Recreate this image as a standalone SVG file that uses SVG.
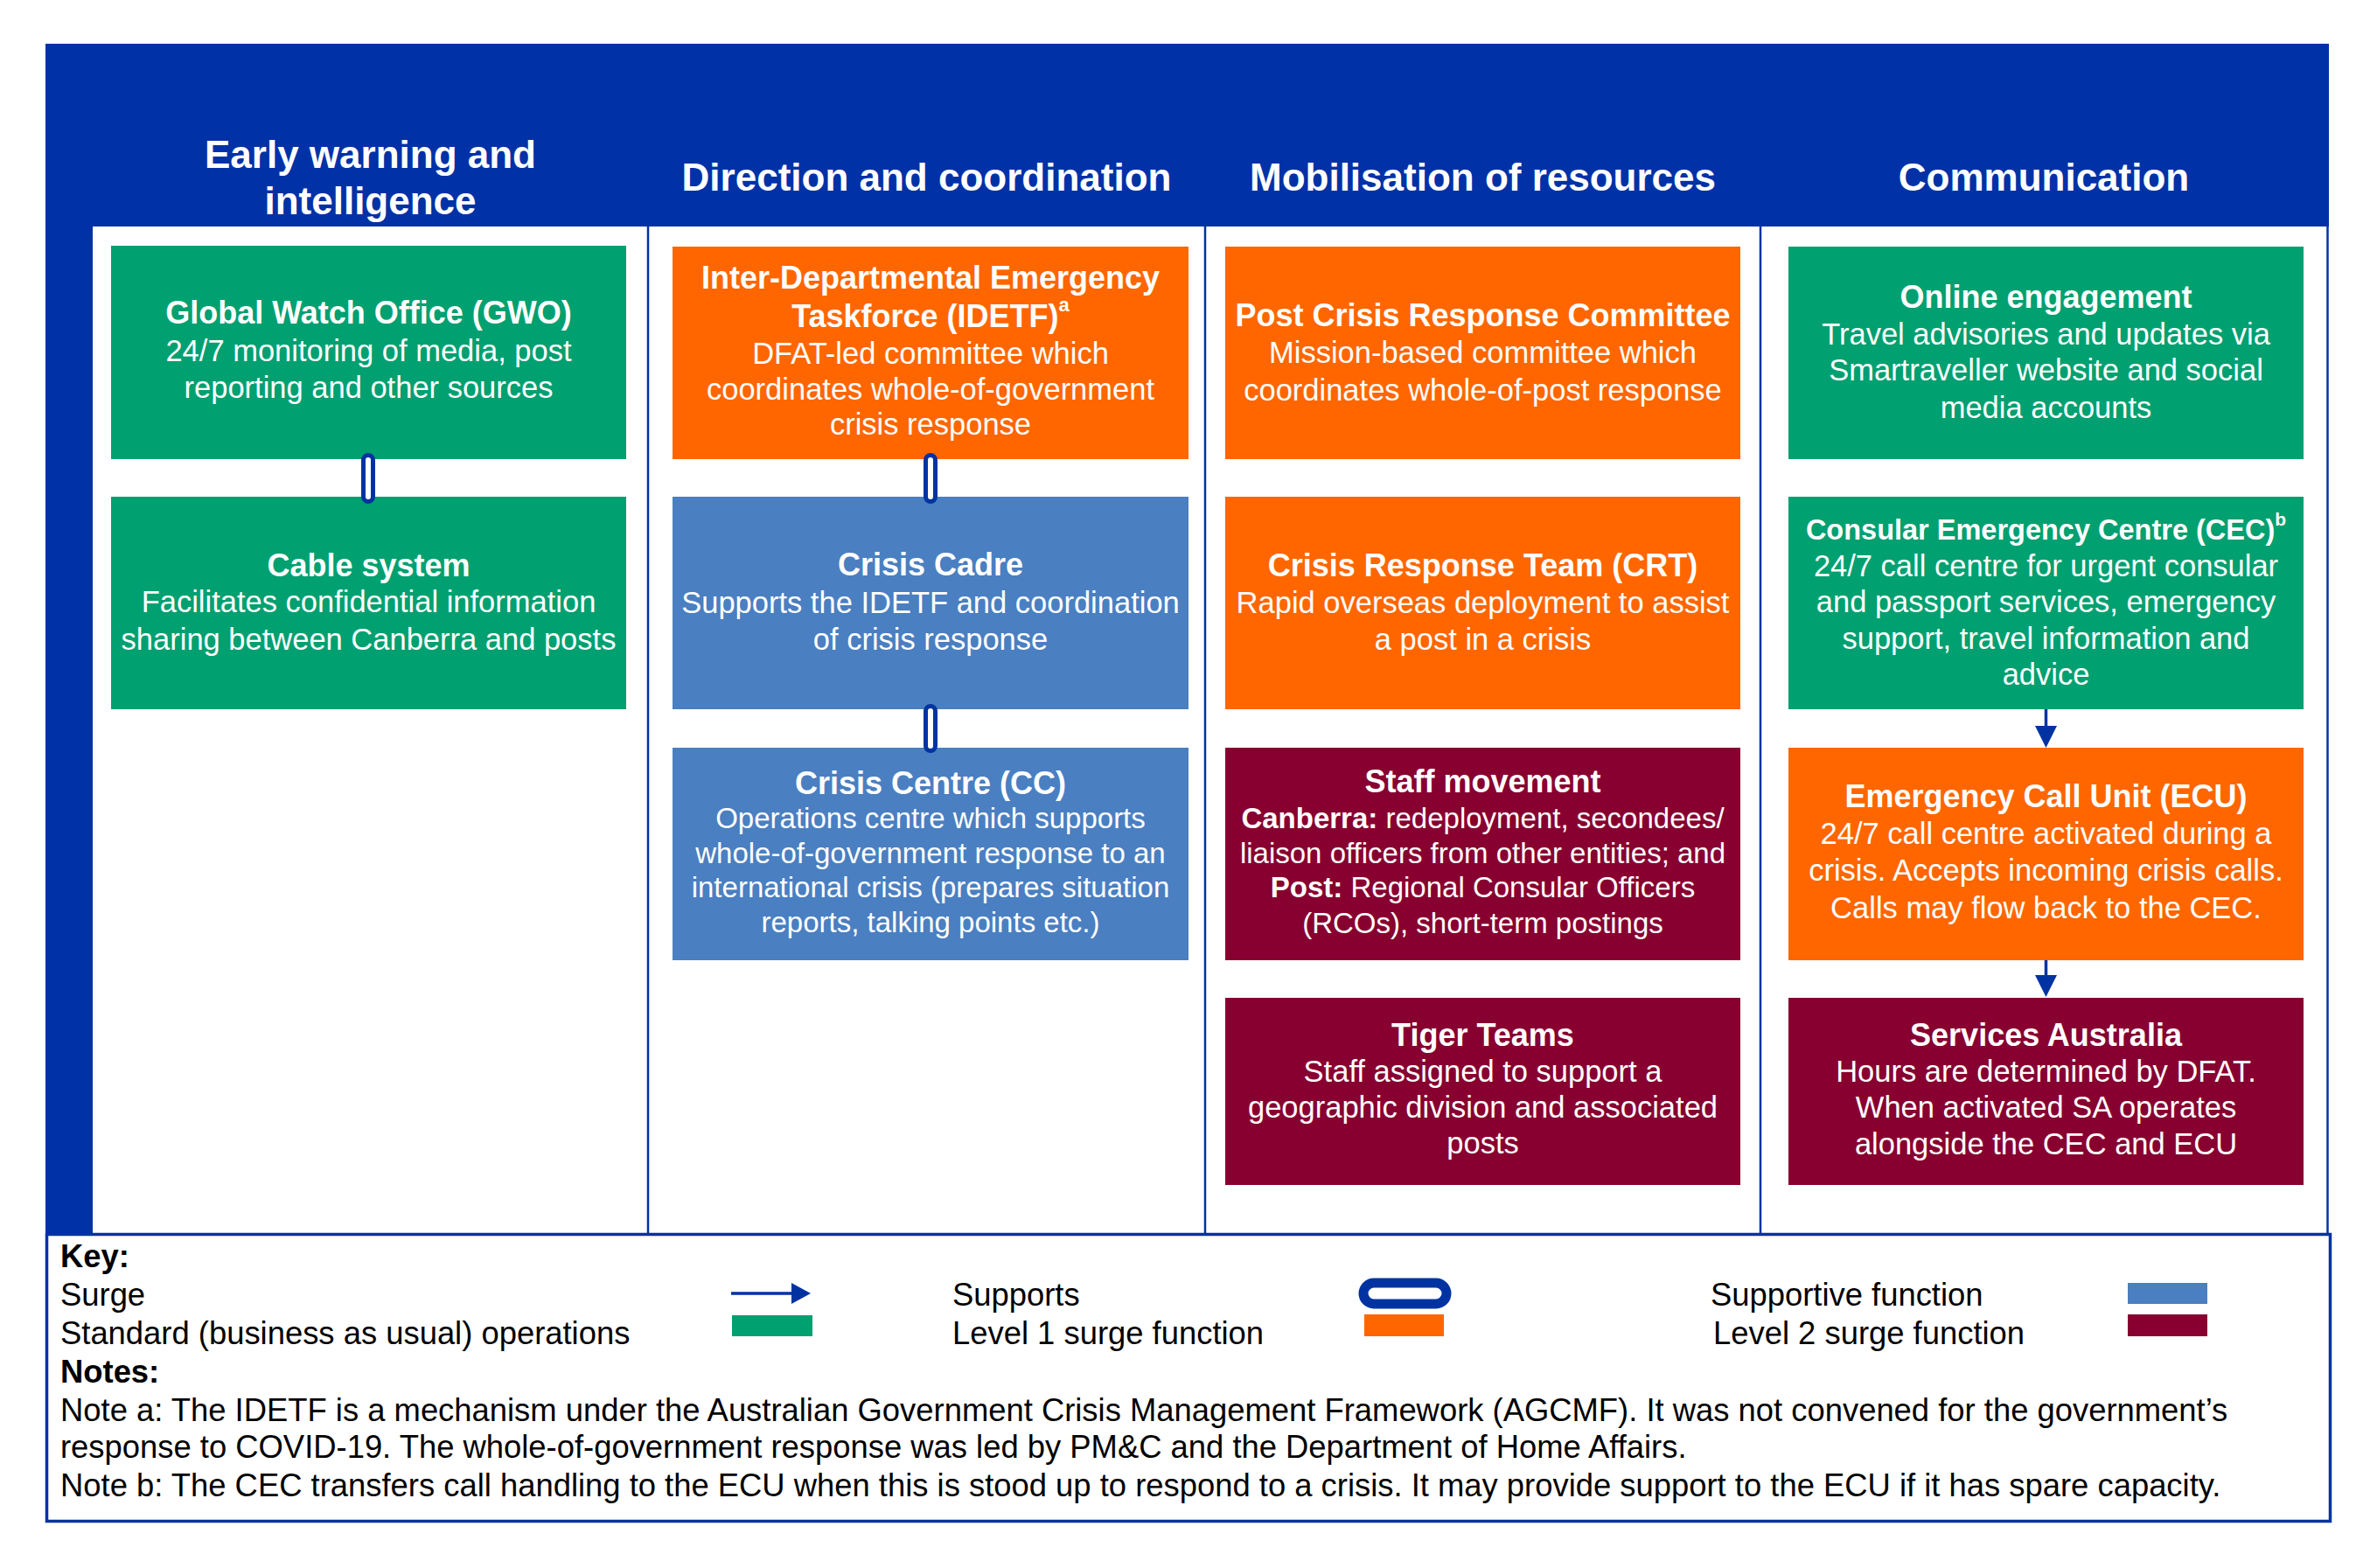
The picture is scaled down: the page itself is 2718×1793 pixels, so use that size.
<svg xmlns="http://www.w3.org/2000/svg" width="2718" height="1793" viewBox="0 0 2718 1793">
<style>
text{font-family:"Liberation Sans",Arial,"DejaVu Sans",sans-serif;}
.ttl{font-size:44px;font-weight:bold;fill:#fff;text-anchor:middle;}
.h{font-size:36px;font-weight:bold;fill:#fff;text-anchor:middle;}
.hs{font-size:32.5px;font-weight:bold;fill:#fff;text-anchor:middle;}
.b{font-size:34.5px;fill:#fff;text-anchor:middle;}
.bs{font-size:33px;fill:#fff;text-anchor:middle;}
.k{font-size:36.4px;fill:#000;}
.kb{font-size:36.4px;fill:#000;font-weight:bold;}
.green{fill:#00A070;}
.orange{fill:#FF6600;}
.lblue{fill:#4A7FC1;}
.maroon{fill:#870030;}
.pill{fill:#fff;stroke:#0033A1;stroke-width:5;}
.div{stroke:#0033A1;stroke-width:2.5;}
</style>
<rect width="2718" height="1793" fill="#fff"/>
<g id="frame">
<rect x="52" y="50" width="2611" height="209" fill="#0031A7"/>
<rect x="52" y="259" width="54" height="1152" fill="#0031A7"/>
<line class="div" x1="741" y1="259" x2="741" y2="1411"/>
<line class="div" x1="1378" y1="259" x2="1378" y2="1411"/>
<line class="div" x1="2013" y1="259" x2="2013" y2="1411"/>
<line class="div" x1="2661.5" y1="259" x2="2661.5" y2="1411"/>
</g>
<g id="headers">
<text class="ttl" x="423.5" y="192">Early warning and</text>
<text class="ttl" x="423.5" y="245">intelligence</text>
<text class="ttl" x="1059.5" y="218">Direction and coordination</text>
<text class="ttl" x="1695.5" y="218">Mobilisation of resources</text>
<text class="ttl" x="2337" y="218">Communication</text>
</g>
<g id="gwo">
<rect class="green" x="127" y="281" width="589" height="244"/>
<text class="h" x="421.5" y="370">Global Watch Office (GWO)</text>
<text class="b" x="421.5" y="413">24/7 monitoring of media, post</text>
<text class="b" x="421.5" y="455">reporting and other sources</text>
</g>
<g id="cable">
<rect class="green" x="127" y="568" width="589" height="243"/>
<text class="h" x="421.5" y="659">Cable system</text>
<text class="b" x="421.5" y="700">Facilitates confidential information</text>
<text class="b" x="421.5" y="743">sharing between Canberra and posts</text>
</g>
<g id="idetf">
<rect class="orange" x="769" y="282" width="590" height="243"/>
<text class="h" x="1064" y="330">Inter-Departmental Emergency</text>
<text class="h" x="1064" y="374">Taskforce (IDETF)<tspan font-size="22" dy="-18">a</tspan></text>
<text class="b" x="1064" y="416">DFAT-led committee which</text>
<text class="b" x="1064" y="457">coordinates whole-of-government</text>
<text class="b" x="1064" y="497">crisis response</text>
</g>
<g id="cadre">
<rect class="lblue" x="769" y="568" width="590" height="243"/>
<text class="h" x="1064" y="658">Crisis Cadre</text>
<text class="b" x="1064" y="701">Supports the IDETF and coordination</text>
<text class="b" x="1064" y="743">of crisis response</text>
</g>
<g id="cc">
<rect class="lblue" x="769" y="855" width="590" height="243"/>
<text class="h" x="1064" y="908">Crisis Centre (CC)</text>
<text class="bs" x="1064" y="947">Operations centre which supports</text>
<text class="bs" x="1064" y="987">whole-of-government response to an</text>
<text class="bs" x="1064" y="1026">international crisis (prepares situation</text>
<text class="bs" x="1064" y="1066">reports, talking points etc.)</text>
</g>
<g id="pcrc">
<rect class="orange" x="1401" y="282" width="589" height="243"/>
<text class="h" x="1695.5" y="373">Post Crisis Response Committee</text>
<text class="b" x="1695.5" y="415">Mission-based committee which</text>
<text class="b" x="1695.5" y="458">coordinates whole-of-post response</text>
</g>
<g id="crt">
<rect class="orange" x="1401" y="568" width="589" height="243"/>
<text class="h" x="1695.5" y="659">Crisis Response Team (CRT)</text>
<text class="b" x="1695.5" y="701">Rapid overseas deployment to assist</text>
<text class="b" x="1695.5" y="743">a post in a crisis</text>
</g>
<g id="staff">
<rect class="maroon" x="1401" y="855" width="589" height="243"/>
<text class="h" x="1695.5" y="906">Staff movement</text>
<text class="bs" x="1695.5" y="947"><tspan font-weight="bold">Canberra:</tspan> redeployment, secondees/</text>
<text class="bs" x="1695.5" y="987">liaison officers from other entities; and</text>
<text class="bs" x="1695.5" y="1026"><tspan font-weight="bold">Post:</tspan> Regional Consular Officers</text>
<text class="bs" x="1695.5" y="1067">(RCOs), short-term postings</text>
</g>
<g id="tiger">
<rect class="maroon" x="1401" y="1141" width="589" height="214"/>
<text class="h" x="1695.5" y="1196">Tiger Teams</text>
<text class="b" x="1695.5" y="1237">Staff assigned to support a</text>
<text class="b" x="1695.5" y="1278">geographic division and associated</text>
<text class="b" x="1695.5" y="1319">posts</text>
</g>
<g id="online">
<rect class="green" x="2045" y="282" width="589" height="243"/>
<text class="h" x="2339.5" y="352">Online engagement</text>
<text class="b" x="2339.5" y="394">Travel advisories and updates via</text>
<text class="b" x="2339.5" y="435">Smartraveller website and social</text>
<text class="b" x="2339.5" y="478">media accounts</text>
</g>
<g id="cec">
<rect class="green" x="2045" y="568" width="589" height="243"/>
<text class="hs" x="2339.5" y="617">Consular Emergency Centre (CEC)<tspan font-size="21" dy="-16">b</tspan></text>
<text class="b" x="2339.5" y="659">24/7 call centre for urgent consular</text>
<text class="b" x="2339.5" y="700">and passport services, emergency</text>
<text class="b" x="2339.5" y="742">support, travel information and</text>
<text class="b" x="2339.5" y="783">advice</text>
</g>
<g id="ecu">
<rect class="orange" x="2045" y="855" width="589" height="243"/>
<text class="h" x="2339.5" y="923">Emergency Call Unit (ECU)</text>
<text class="b" x="2339.5" y="965">24/7 call centre activated during a</text>
<text class="b" x="2339.5" y="1007">crisis. Accepts incoming crisis calls.</text>
<text class="b" x="2339.5" y="1050">Calls may flow back to the CEC.</text>
</g>
<g id="sa">
<rect class="maroon" x="2045" y="1141" width="589" height="214"/>
<text class="h" x="2339.5" y="1196">Services Australia</text>
<text class="b" x="2339.5" y="1237">Hours are determined by DFAT.</text>
<text class="b" x="2339.5" y="1278">When activated SA operates</text>
<text class="b" x="2339.5" y="1320">alongside the CEC and ECU</text>
</g>
<g id="connectors">
<rect class="pill" x="415.5" y="520.5" width="11" height="53" rx="5.5"/>
<rect class="pill" x="1058.5" y="520.5" width="11" height="53" rx="5.5"/>
<rect class="pill" x="1058.5" y="807.5" width="11" height="51" rx="5.5"/>
<line x1="2339.5" y1="811" x2="2339.5" y2="832" stroke="#0033A1" stroke-width="3.5"/>
<polygon points="2327,830 2352,830 2339.5,855" fill="#0033A1"/>
<line x1="2339.5" y1="1098" x2="2339.5" y2="1117" stroke="#0033A1" stroke-width="3.5"/>
<polygon points="2327,1115 2352,1115 2339.5,1140" fill="#0033A1"/>
</g>
<g id="key">
<rect x="53.5" y="1411.5" width="2611" height="328" fill="#fff" stroke="#0033A1" stroke-width="3.5"/>
<text class="kb" x="69" y="1449">Key:</text>
<text class="k" x="69" y="1493">Surge</text>
<text class="k" x="69" y="1537">Standard (business as usual) operations</text>
<line x1="836" y1="1479" x2="907" y2="1479" stroke="#0033A1" stroke-width="3.5"/>
<polygon points="905,1467 927,1479 905,1491" fill="#0033A1"/>
<rect class="green" x="837" y="1504" width="92" height="24"/>
<text class="k" x="1089" y="1493">Supports</text>
<text class="k" x="1089" y="1537">Level 1 surge function</text>
<rect x="1559" y="1467" width="95" height="24" rx="12" fill="#fff" stroke="#0033A1" stroke-width="11"/>
<rect class="orange" x="1560" y="1503" width="91" height="25"/>
<text class="k" x="1956" y="1493">Supportive function</text>
<text class="k" x="1959" y="1537">Level 2 surge function</text>
<rect class="lblue" x="2433" y="1467" width="91" height="24"/>
<rect class="maroon" x="2433" y="1503" width="91" height="25"/>
<text class="kb" x="69" y="1581">Notes:</text>
<text class="k" x="69" y="1625">Note a: The IDETF is a mechanism under the Australian Government Crisis Management Framework (AGCMF). It was not convened for the government’s</text>
<text class="k" x="69" y="1667">response to COVID-19. The whole-of-government response was led by PM&amp;C and the Department of Home Affairs.</text>
<text class="k" x="69" y="1711">Note b: The CEC transfers call handling to the ECU when this is stood up to respond to a crisis. It may provide support to the ECU if it has spare capacity.</text>
</g>
</svg>
